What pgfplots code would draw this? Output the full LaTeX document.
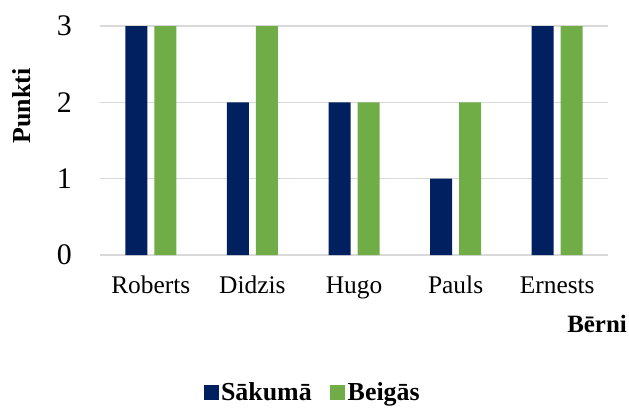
\documentclass[border=0pt]{standalone}
\usepackage{pgfplots}
\pgfplotsset{compat=1.18}
\usepackage{fontspec}
\setmainfont{Liberation Serif}
\newcommand\lf{\rmfamily\bfseries\fontsize{26}{26}\selectfont}
\definecolor{navy}{HTML}{002060}
\definecolor{grn}{HTML}{70AD47}
\definecolor{gridgray}{HTML}{D9D9D9}
\begin{document}
\begin{tikzpicture}[x=1bp,y=1bp]
\path[use as bounding box] (-100,-152) rectangle (529,255);
\begin{axis}[
  at={(0,0)}, anchor=south west,
  scale only axis, width=508bp, height=229bp,
  xmin=-0.5, xmax=4.5, ymin=0, ymax=3,
  axis line style={draw=none},
  ybar=7bp, bar width=22bp,
  xtick={0,1,2,3,4},
  xticklabels={Roberts,Didzis,Hugo,Pauls,Ernests},
  ytick={0,1,2,3},
  major tick length=0pt,
  ymajorgrids, grid style={gridgray, line width=1.2bp},
  /pgf/number format/assume math mode=true,
  yticklabel style={font=\fontsize{30}{30}\selectfont, anchor=east, inner sep=0pt, xshift=-28bp},
  xticklabel style={font=\fontsize{25.5}{25.5}\selectfont, anchor=base, inner sep=0pt, yshift=-38bp},
  legend columns=2,
  legend style={draw=none, fill=none, at={(0.419,-0.60)}, anchor=center,
    nodes={inner sep=2.5bp},
    /tikz/every even column/.append style={column sep=16bp}},
  legend image code/.code={\fill (0bp,-7.5bp) rectangle (15bp,7.5bp);},
  clip=false,
]
\addplot[fill=navy, draw=none] coordinates {(0,3) (1,2) (2,2) (3,1) (4,3)};
\addlegendentry{\lf Sākumā}
\addplot[fill=grn, draw=none] coordinates {(0,3) (1,3) (2,2) (3,2) (4,3)};
\addlegendentry{\lf Beigās}
\end{axis}
\node[rotate=90, font=\fontsize{26}{26}\bfseries\selectfont] at (-78,149) {Punkti};
\node[anchor=base east, inner sep=0pt, font=\fontsize{25}{25}\bfseries\selectfont] at (527,-77) {Bērni};
\end{tikzpicture}
\end{document}
